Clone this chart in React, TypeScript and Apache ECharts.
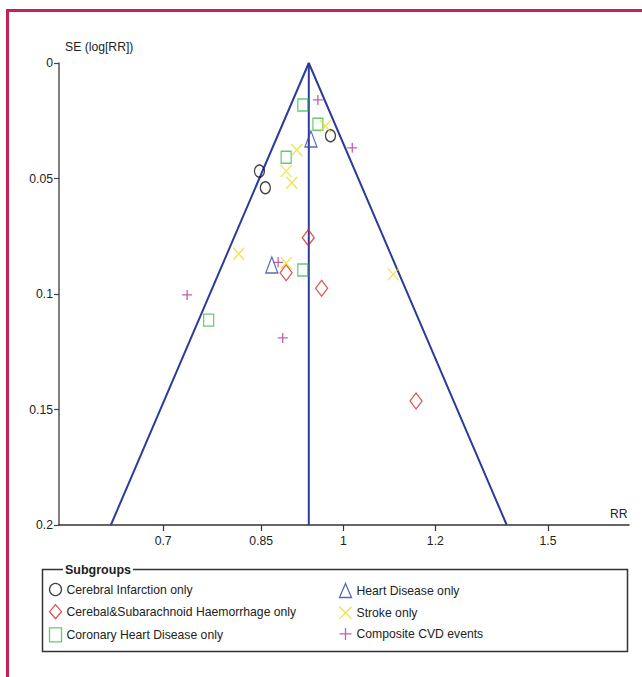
import React, { useEffect, useRef } from "react";
import * as echarts from "echarts";

// Pooled estimate (centre of funnel), RR
const pooledRR = 0.934;
const maxSE = 0.2;

// X axis tick labels (RR, log scale)
const xTicks = [0.7, 0.85, 1, 1.2, 1.5];
const xMinRR = 0.5695;
const xMaxRR = 1.761;

// Series data: RR and SE(log RR)
const ciRR = [0.847, 0.857, 0.975];
const ciSE = [0.0468, 0.054, 0.0315];
const hdRR = [0.938, 0.868];
const hdSE = [0.0329, 0.0874];
const shRR = [0.933, 0.893, 0.958, 1.155];
const shSE = [0.0756, 0.0908, 0.0975, 0.1463];
const stRR = [0.965, 0.912, 0.893, 0.903, 0.813, 0.893, 1.104];
const stSE = [0.0273, 0.0377, 0.0468, 0.0518, 0.0826, 0.0867, 0.0915];
const chdRR = [0.923, 0.951, 0.893, 0.923, 0.766];
const chdSE = [0.0182, 0.0265, 0.0408, 0.0896, 0.1113];
const cvdRR = [0.951, 1.018, 0.879, 0.734, 0.887];
const cvdSE = [0.016, 0.0367, 0.0863, 0.1004, 0.119];

const names = [
  "Cerebral Infarction only",
  "Cerebal&Subarachnoid Haemorrhage only",
  "Coronary Heart Disease only",
  "Heart Disease only",
  "Stroke only",
  "Composite CVD events",
];

const FONT = "'Liberation Sans', Arial, sans-serif";
const FS = 12.2;

const pts = (rr: number[], se: number[]) => rr.map((r, i) => [Math.log(r), se[i]]);

export default function App() {
  const ref = useRef<HTMLDivElement>(null);
  useEffect(() => {
    if (!ref.current) return;
    const chart = echarts.init(ref.current, null, { renderer: "svg" });
    const c = Math.log(pooledRR);
    const half = 1.96 * maxSE;
    const blue = "#2b3c9c";
    const hollow = (symbol: string, size: any, color: string, name: string, data: number[][]) => ({
      type: "scatter",
      name,
      symbol,
      symbolSize: size,
      itemStyle: { color: "none", borderColor: color, borderWidth: 1.3 },
      data,
      z: 5,
    });
    const legendBase = {
      orient: "vertical",
      top: 581,
      padding: 0,
      itemGap: 4.2,
      itemWidth: 12,
      itemHeight: 14,
      itemStyle: { borderWidth: 1.3 },
      textStyle: { fontSize: FS, color: "#222", fontFamily: FONT },
      selectedMode: false,
    };
    const option: any = {
      animation: false,
      textStyle: { fontFamily: FONT },
      grid: { left: 59, top: 63, right: 13, bottom: 152 },
      xAxis: {
        type: "value",
        min: Math.log(xMinRR),
        max: Math.log(xMaxRR),
        name: "RR",
        nameLocation: "end",
        nameGap: -19,
        nameTextStyle: { fontSize: FS, color: "#222", fontFamily: FONT, align: "left", verticalAlign: "bottom", padding: [0, 0, 5, 0] },
        axisLine: { onZero: false, lineStyle: { color: "#333", width: 1.5 } },
        axisTick: { show: true, length: 6, customValues: xTicks.map(Math.log), lineStyle: { color: "#333", width: 1.2 } },
        axisLabel: {
          customValues: xTicks.map(Math.log),
          margin: 10,
          fontSize: FS,
          color: "#222",
          fontFamily: FONT,
          formatter: (v: number) => {
            let best = xTicks[0];
            xTicks.forEach((t) => {
              if (Math.abs(Math.log(t) - v) < Math.abs(Math.log(best) - v)) best = t;
            });
            return String(best);
          },
        },
        splitLine: { show: false },
      },
      yAxis: {
        type: "value",
        inverse: true,
        min: 0,
        max: maxSE,
        interval: 0.05,
        name: "SE (log[RR])",
        nameLocation: "start",
        nameGap: 10,
        nameTextStyle: { fontSize: FS, color: "#222", fontFamily: FONT, align: "left", padding: [0, 0, 0, 6] },
        axisLine: { show: true, onZero: false, lineStyle: { color: "#555", width: 1.5 } },
        axisTick: { show: true, length: 5, lineStyle: { color: "#444", width: 1.2 } },
        axisLabel: { fontSize: FS, color: "#222", margin: 6, fontFamily: FONT },
        splitLine: { show: false },
      },
      legend: [
        { ...legendBase, data: names.slice(0, 3), left: 47 },
        { ...legendBase, data: names.slice(3), left: 337 },
      ],
      graphic: [
        {
          type: "rect",
          shape: { x: 7.5, y: 10.5, width: 720, height: 720 },
          style: { fill: "none", stroke: "#c91f55", lineWidth: 3 },
          z: -10,
          silent: true,
        },
        {
          type: "rect",
          shape: { x: 42.5, y: 569.5, width: 585, height: 82 },
          style: { fill: "none", stroke: "#333", lineWidth: 1.5 },
          z: 1,
          silent: true,
        },
        {
          type: "text",
          x: 63,
          y: 569.5,
          style: {
            text: "Subgroups",
            fontFamily: FONT,
            fontWeight: "bold",
            fontSize: 12.5,
            fill: "#222",
            verticalAlign: "middle",
            backgroundColor: "#fff",
            padding: [0, 2, 0, 2],
          },
          z: 2,
          silent: true,
        },
      ],
      series: [
        {
          type: "line",
          data: [
            [c - half, maxSE],
            [c, 0],
            [c + half, maxSE],
          ],
          symbol: "none",
          lineStyle: { color: blue, width: 2 },
          z: 3,
          silent: true,
        },
        {
          type: "line",
          data: [
            [c, 0],
            [c, maxSE],
          ],
          symbol: "none",
          lineStyle: { color: blue, width: 2 },
          z: 3,
          silent: true,
        },
        hollow("circle", [10, 12], "#111", names[0], pts(ciRR, ciSE)),
        hollow("diamond", [12, 16], "#d42a2a", names[1], pts(shRR, shSE)),
        hollow("rect", [10, 12], "#3dbb4c", names[2], pts(chdRR, chdSE)),
        hollow("triangle", [12, 16], "#34459f", names[3], pts(hdRR, hdSE)),
        hollow("path://M0,0L10,10M10,0L0,10", [11, 12], "#e6df1c", names[4], pts(stRR, stSE)),
        hollow("path://M5,0L5,10M0,5L10,5", [10, 10], "#b23a9c", names[5], pts(cvdRR, cvdSE)),
      ],
    };
    chart.setOption(option);
    return () => chart.dispose();
  }, []);
  return (
    <div
      ref={ref}
      style={{ position: "fixed", left: 0, top: 0, width: 642, height: 677, background: "#fff" }}
    />
  );
}
